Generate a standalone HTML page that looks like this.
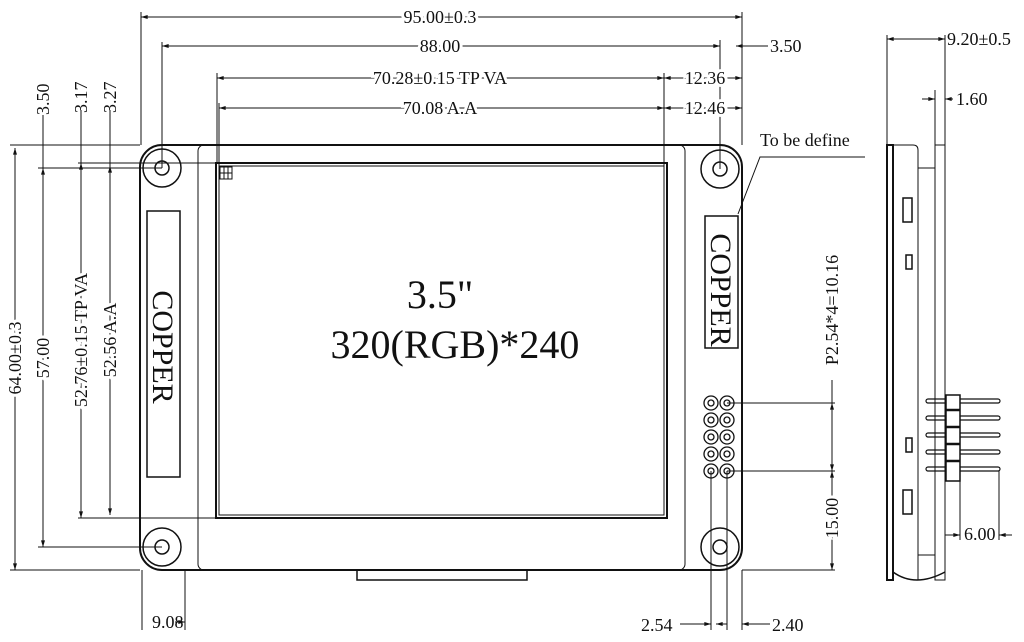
<!DOCTYPE html>
<html><head><meta charset="utf-8"><style>
html,body{margin:0;padding:0;background:#fff}
svg{display:block}
text{font-family:"Liberation Serif",serif;fill:#111}
</style></head><body>
<svg width="1024" height="642" viewBox="0 0 1024 642" xmlns="http://www.w3.org/2000/svg">
<defs>
<marker id="a" viewBox="0 0 10 6" refX="10" refY="3" markerWidth="8" markerHeight="4" orient="auto-start-reverse"><path d="M0,0 L10,3 L0,6z" fill="#111"/></marker>
</defs>
<g stroke="#111" fill="none" stroke-width="1">
<rect x="140" y="145" width="602" height="425" rx="22" stroke-width="2"/>
<rect x="198" y="145" width="487" height="425" rx="6"/>
<rect x="216" y="163" width="451" height="355" stroke-width="2"/>
<rect x="219" y="166" width="445" height="349"/>
<rect x="220" y="167" width="12" height="12"/><line x1="224" y1="167" x2="224" y2="179"/><line x1="228" y1="167" x2="228" y2="179"/><line x1="220" y1="173" x2="232" y2="173"/>
<rect x="357" y="570" width="170" height="10" stroke-width="1.5"/>
<circle cx="162" cy="168" r="19" stroke-width="1.5"/><circle cx="162" cy="168" r="7" stroke-width="1.5"/>
<circle cx="720" cy="169" r="19" stroke-width="1.5"/><circle cx="720" cy="169" r="7" stroke-width="1.5"/>
<circle cx="162" cy="547" r="19" stroke-width="1.5"/><circle cx="162" cy="547" r="7" stroke-width="1.5"/>
<circle cx="720" cy="547" r="19" stroke-width="1.5"/><circle cx="720" cy="547" r="7" stroke-width="1.5"/>
<rect x="147" y="211" width="33" height="266" stroke-width="1.5"/>
<rect x="705" y="216" width="33" height="132" stroke-width="1.5"/>
<g stroke-width="1.3">
<circle cx="711" cy="403" r="7"/><circle cx="711" cy="403" r="3"/><circle cx="727" cy="403" r="7"/><circle cx="727" cy="403" r="3"/>
<circle cx="711" cy="420" r="7"/><circle cx="711" cy="420" r="3"/><circle cx="727" cy="420" r="7"/><circle cx="727" cy="420" r="3"/>
<circle cx="711" cy="437" r="7"/><circle cx="711" cy="437" r="3"/><circle cx="727" cy="437" r="7"/><circle cx="727" cy="437" r="3"/>
<circle cx="711" cy="454" r="7"/><circle cx="711" cy="454" r="3"/><circle cx="727" cy="454" r="7"/><circle cx="727" cy="454" r="3"/>
<circle cx="711" cy="471" r="7"/><circle cx="711" cy="471" r="3"/><circle cx="727" cy="471" r="7"/><circle cx="727" cy="471" r="3"/>
</g>
<line x1="141" y1="12" x2="141" y2="145"/><line x1="742" y1="12" x2="742" y2="145"/>
<line x1="141" y1="17" x2="742" y2="17" marker-start="url(#a)" marker-end="url(#a)"/>
<line x1="162" y1="42" x2="162" y2="168"/><line x1="720" y1="40" x2="720" y2="169"/>
<line x1="162" y1="46" x2="720" y2="46" marker-start="url(#a)" marker-end="url(#a)"/>
<line x1="742" y1="46" x2="768" y2="46"/><line x1="736" y1="46" x2="742" y2="46" marker-start="url(#a)"/>
<line x1="217" y1="73" x2="217" y2="163"/><line x1="219" y1="103" x2="219" y2="166"/>
<line x1="664" y1="73" x2="664" y2="166"/>
<line x1="217" y1="78" x2="664" y2="78" marker-start="url(#a)" marker-end="url(#a)"/>
<line x1="219" y1="108" x2="664" y2="108" marker-start="url(#a)" marker-end="url(#a)"/>
<line x1="664" y1="78" x2="742" y2="78" marker-start="url(#a)" marker-end="url(#a)"/>
<line x1="664" y1="108" x2="742" y2="108" marker-start="url(#a)" marker-end="url(#a)"/>
<line x1="10" y1="145" x2="140" y2="145"/><line x1="38" y1="168" x2="162" y2="168"/>
<line x1="78" y1="163" x2="216" y2="163"/>
<line x1="10" y1="570" x2="140" y2="570"/><line x1="38" y1="547" x2="162" y2="547"/>
<line x1="78" y1="518" x2="216" y2="518"/>
<line x1="15" y1="148" x2="15" y2="570" marker-start="url(#a)" marker-end="url(#a)"/>
<line x1="43" y1="168" x2="43" y2="547" marker-start="url(#a)" marker-end="url(#a)"/>
<line x1="81" y1="163" x2="81" y2="518" marker-start="url(#a)" marker-end="url(#a)"/>
<line x1="110" y1="166" x2="110" y2="515" marker-start="url(#a)" marker-end="url(#a)"/>
<line x1="43" y1="115" x2="43" y2="168"/><line x1="81" y1="110" x2="81" y2="163"/><line x1="110" y1="110" x2="110" y2="166"/>
<line x1="142" y1="570" x2="142" y2="630"/><line x1="185" y1="570" x2="185" y2="630"/>
<line x1="175" y1="622" x2="185" y2="622" marker-end="url(#a)"/>
<line x1="711" y1="471" x2="711" y2="630"/><line x1="727" y1="471" x2="727" y2="630"/><line x1="742" y1="570" x2="742" y2="630"/>
<line x1="680" y1="624" x2="711" y2="624" marker-end="url(#a)"/><line x1="727" y1="624" x2="716" y2="624" marker-end="url(#a)"/>
<line x1="770" y1="624" x2="742" y2="624" marker-end="url(#a)"/>
<line x1="727" y1="403" x2="835" y2="403"/><line x1="727" y1="471" x2="835" y2="471"/><line x1="742" y1="570" x2="835" y2="570"/>
<line x1="832" y1="380" x2="832" y2="403"/>
<line x1="832" y1="403" x2="832" y2="471" marker-start="url(#a)" marker-end="url(#a)"/>
<line x1="832" y1="471" x2="832" y2="570" marker-start="url(#a)" marker-end="url(#a)"/>
<polyline points="865,157 760,157 738,214"/>
<rect x="887" y="145" width="6" height="435" stroke-width="2"/>
<path d="M893,145 L913,145 Q918,145 918,150 L918,580"/>
<rect x="918" y="168" width="17" height="387"/>
<rect x="935" y="145" width="10" height="435"/>
<path d="M893,572 Q915,588 945,572" stroke-width="1.5"/>
<rect x="903" y="198" width="9" height="24" stroke-width="1.5"/><rect x="906" y="255" width="6" height="14" stroke-width="1.5"/>
<rect x="906" y="438" width="6" height="14" stroke-width="1.5"/><rect x="903" y="490" width="9" height="24" stroke-width="1.5"/>
<g stroke-width="1.2">
<rect x="926" y="399" width="74" height="4" rx="2"/>
<rect x="926" y="416" width="74" height="4" rx="2"/>
<rect x="926" y="433" width="74" height="4" rx="2"/>
<rect x="926" y="450" width="74" height="4" rx="2"/>
<rect x="926" y="467" width="74" height="4" rx="2"/>
</g>
<rect x="946" y="395" width="14" height="86" stroke-width="1.5" fill="#fff"/>
<g stroke-width="2.5"><line x1="946" y1="410" x2="960" y2="410"/><line x1="946" y1="427" x2="960" y2="427"/><line x1="946" y1="444" x2="960" y2="444"/><line x1="946" y1="461" x2="960" y2="461"/></g>
<line x1="960" y1="481" x2="960" y2="540"/><line x1="999" y1="471" x2="999" y2="540"/>
<line x1="945" y1="535" x2="960" y2="535" marker-end="url(#a)"/><line x1="1012" y1="535" x2="999" y2="535" marker-end="url(#a)"/>
<line x1="887" y1="35" x2="887" y2="145"/><line x1="945" y1="35" x2="945" y2="145"/><line x1="935" y1="90" x2="935" y2="145"/>
<line x1="887" y1="39" x2="945" y2="39" marker-start="url(#a)" marker-end="url(#a)"/>
<line x1="922" y1="99" x2="935" y2="99" marker-end="url(#a)"/><line x1="953" y1="99" x2="945" y2="99" marker-end="url(#a)"/>
</g>
<g font-size="18">
<text x="440" y="23" text-anchor="middle" style="paint-order:stroke" stroke="#fff" stroke-width="6">95.00±0.3</text>
<text x="440" y="52" text-anchor="middle" stroke="#fff" stroke-width="6" style="paint-order:stroke">88.00</text>
<text x="770" y="52">3.50</text>
<text x="440" y="84" text-anchor="middle" stroke="#fff" stroke-width="6" style="paint-order:stroke">70.28±0.15 TP VA</text>
<text x="440" y="114" text-anchor="middle" stroke="#fff" stroke-width="6" style="paint-order:stroke">70.08 A.A</text>
<text x="705" y="84" text-anchor="middle" stroke="#fff" stroke-width="6" style="paint-order:stroke">12.36</text>
<text x="705" y="114" text-anchor="middle" stroke="#fff" stroke-width="6" style="paint-order:stroke">12.46</text>
<text x="760" y="146" font-size="18">To be define</text>
<text x="947" y="45">9.20±0.5</text>
<text x="956" y="105">1.60</text>
<text x="964" y="540">6.00</text>
<text x="152" y="628">9.08</text>
<text x="641" y="631">2.54</text>
<text x="772" y="631">2.40</text>
<text transform="translate(49,115) rotate(-90)">3.50</text>
<text transform="translate(87,113) rotate(-90)">3.17</text>
<text transform="translate(116,113) rotate(-90)">3.27</text>
<text transform="translate(21,358) rotate(-90)" text-anchor="middle" stroke="#fff" stroke-width="6" style="paint-order:stroke">64.00±0.3</text>
<text transform="translate(49,358) rotate(-90)" text-anchor="middle" stroke="#fff" stroke-width="6" style="paint-order:stroke">57.00</text>
<text transform="translate(87,340) rotate(-90)" text-anchor="middle" stroke="#fff" stroke-width="6" style="paint-order:stroke">52.76±0.15 TP VA</text>
<text transform="translate(116,340) rotate(-90)" text-anchor="middle" stroke="#fff" stroke-width="6" style="paint-order:stroke">52.56 A.A</text>
<text transform="translate(838,310) rotate(-90)" text-anchor="middle">P2.54*4=10.16</text>
<text transform="translate(838,518) rotate(-90)" text-anchor="middle" stroke="#fff" stroke-width="6" style="paint-order:stroke">15.00</text>
</g>
<text x="440" y="308" font-size="40" text-anchor="middle">3.5"</text>
<text x="455" y="358" font-size="40" text-anchor="middle">320(RGB)*240</text>
<text transform="translate(153,347) rotate(90)" font-size="30" text-anchor="middle">COPPER</text>
<text transform="translate(711,290) rotate(90)" font-size="30" text-anchor="middle">COPPER</text>
</svg>
</body></html>
